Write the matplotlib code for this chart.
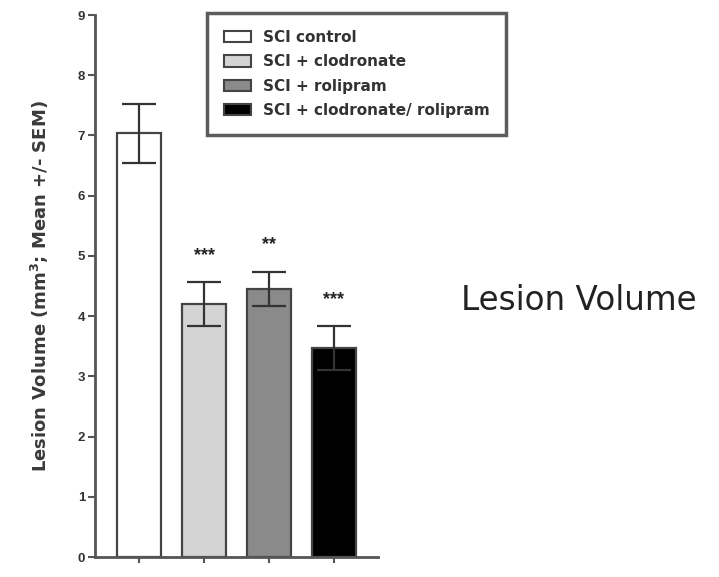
import numpy as np
import matplotlib.pyplot as plt
from matplotlib.patches import Patch

groups = ["SCI control", "SCI + clodronate", "SCI + rolipram", "SCI + clodronate/ rolipram"]
means = [7.04, 4.20, 4.45, 3.47]
sems = [0.49, 0.37, 0.29, 0.36]
stars = ["", "***", "**", "***"]
colors = ["white", "#d4d4d4", "#8a8a8a", "black"]

plt.rcParams['font.family'] = ['Liberation Sans', 'DejaVu Sans']

fig = plt.figure(figsize=(7.19, 5.77), dpi=100)
ax = fig.add_axes([95 / 719, 20 / 577, 283 / 719, 542 / 577])

x = np.arange(len(groups))
edge = "#444444"
ax.bar(x, means, width=0.69, color=colors, edgecolor=edge, linewidth=1.6, zorder=2)
ax.errorbar(x, means, yerr=sems, fmt='none', ecolor="#333333", elinewidth=1.6,
            capsize=12, capthick=1.6, zorder=3)

# significance markers above each treated group
for xi, m, s, st in zip(x, means, sems, stars):
    if st:
        ax.text(xi, m + s + 0.3, st, ha='center', va='bottom', fontsize=13,
                fontweight='bold', color="#222222")

ax.set_xlim(-0.677, 3.677)
ax.set_ylim(0, 9)
ax.set_yticks(range(10))
ax.set_xticks(x)
ax.set_xticklabels([])
for side in ("top", "right"):
    ax.spines[side].set_visible(False)
for side in ("left", "bottom"):
    ax.spines[side].set_linewidth(2)
    ax.spines[side].set_color("#555555")
ax.tick_params(axis='y', length=5, width=1.5, color="#555555", labelsize=9.5,
               labelcolor="#333333", pad=2)
ax.tick_params(axis='x', length=4, width=1.5, color="#555555")
for lbl in ax.get_yticklabels():
    lbl.set_fontweight('bold')

ax.set_ylabel("Lesion Volume (mm$^\\mathbf{3}$; Mean +/- SEM)", fontsize=13,
              fontweight='bold', color="#3a3a3a", labelpad=19,
              family='DejaVu Sans')

handles = [Patch(facecolor=c, edgecolor=edge, linewidth=1.5) for c in colors]
leg = fig.legend(handles, groups, loc='upper left',
                 bbox_to_anchor=(207 / 719, 1 - 13 / 577), borderaxespad=0,
                 frameon=True, fancybox=False, handlelength=1.8, handleheight=0.75,
                 prop={'size': 11, 'weight': 'bold', 'family': 'DejaVu Sans'},
                 labelspacing=0.62, borderpad=1.1, handletextpad=0.75)
leg.get_frame().set_edgecolor("#333333")
leg.get_frame().set_linewidth(2.5)
for t in leg.get_texts():
    t.set_color("#333333")

fig.text(579 / 719, 1 - 300 / 577, "Lesion Volume", fontsize=23.5,
         ha='center', va='center', color="#222222", family='DejaVu Sans')

fig.savefig("out.png", dpi=100)
